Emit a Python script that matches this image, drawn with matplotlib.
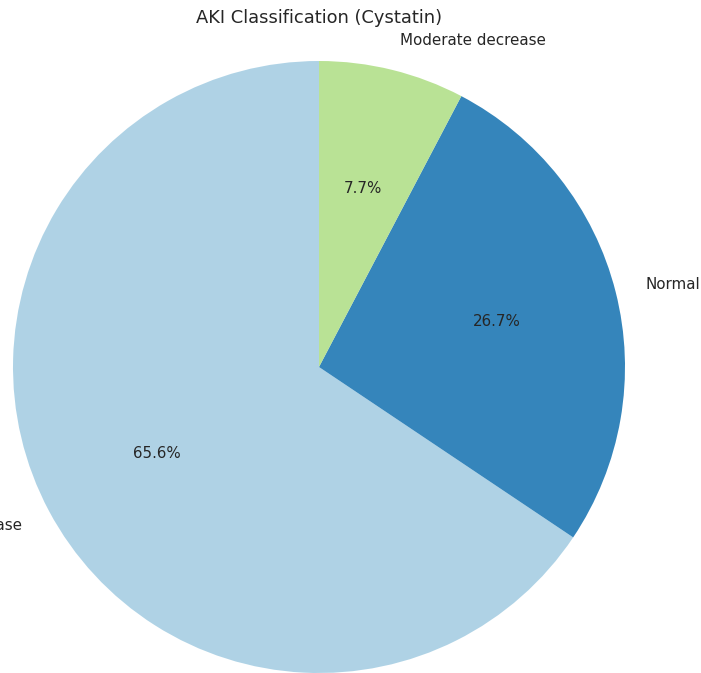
import matplotlib
matplotlib.use('Agg')
import matplotlib.pyplot as plt

labels = ['Mild decrease', 'Normal', 'Moderate decrease']
values = [65.6, 26.7, 7.7]
colors = plt.cm.Paired.colors[:3]

fig = plt.figure(figsize=(7.01, 6.73), dpi=100)
ax = fig.add_axes([0, 0, 1, 1])

ax.pie(values, labels=labels, colors=colors, autopct='%1.1f%%',
       startangle=90, wedgeprops={'alpha': 0.9},
       textprops={'fontsize': 10.9, 'color': '#262626'})

# crop: centre of pie at (319, 367) px, radius 306 px
r = 306.0
ax.set_xlim(-319 / r, (701 - 319) / r)
ax.set_ylim(-(673 - 367) / r, 367 / r)
ax.set_aspect('auto')
ax.axis('off')

fig.text(319 / 701, 1 - 18 / 673, 'AKI Classification (Cystatin)',
         ha='center', va='center', fontsize=12.9, color='#262626')

fig.savefig('out.png', dpi=100)
